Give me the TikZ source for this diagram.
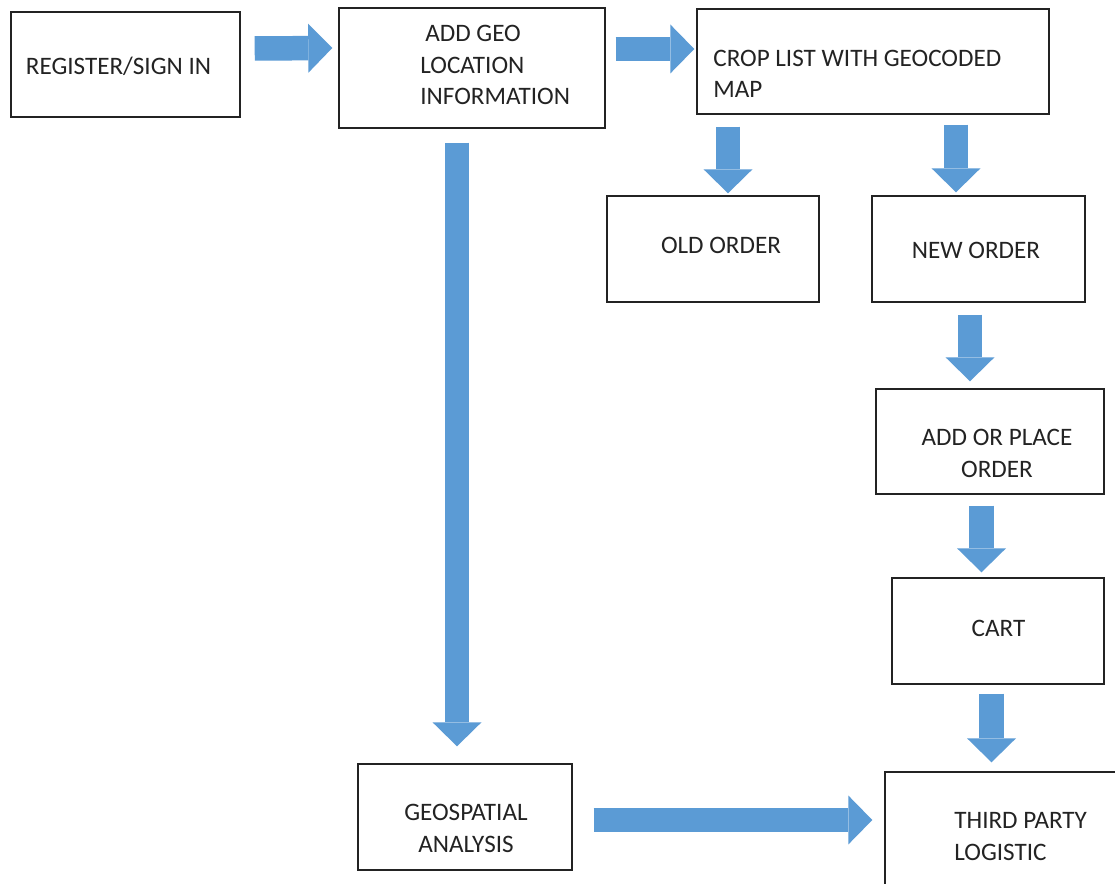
\documentclass[tikz,border=0pt]{standalone}
\usepackage{fontspec}
\setmainfont{Carlito}
\usepackage{xcolor}
\definecolor{flowBlue}{RGB}{91,155,213}
\definecolor{flowInk}{RGB}{35,35,35}
\usepackage{tikz}
\usetikzlibrary{arrows.meta}
\tikzset{
  box/.style 2 args={draw=flowInk, line width=0.8pt, inner sep=0pt,
    minimum width=#1*0.02cm, minimum height=#2*0.02cm},
  lbl/.style={font=\fontsize{14.3}{18}\selectfont, text=flowInk, inner sep=0pt, align=left},
  blk/.style={flowBlue, line width=0.49cm,
    -{Triangle[width=0.98cm,length=0.48cm,line width=0pt]}}
}

\begin{document}
\begin{tikzpicture}[x=0.02cm, y=-0.02cm]
  \fill[white] (0,0) rectangle (1115,884);
  \clip (0,0) rectangle (1115,884);
  % boxes
  \node[box={229}{105}] (reg) at (125.5,64.5) {};
  \node[box={266}{120}] (geo) at (472,68) {};
  \node[box={352}{105}] (crop) at (873,61.5) {};
  \node[box={212}{106}] (old) at (713,249) {};
  \node[box={213}{106}] (new) at (978.5,249) {};
  \node[box={228}{105}] (place) at (990,441.5) {};
  \node[box={212}{106}] (cart) at (998,631) {};
  \node[box={214}{106}] (spatial) at (465,817) {};
  \node[box={240}{120}] (third) at (1005,832) {};
  % labels
  \node[lbl] (regT) at (118.5,66) {REGISTER/SIGN IN};
  \node[lbl, anchor=west] (geoT) at (420,65) {\hspace*{0.1cm}ADD GEO\\LOCATION\\INFORMATION};
  \node[lbl, anchor=west] (cropT) at (713,74) {CROP LIST WITH GEOCODED\\MAP};
  \node[lbl] (oldT) at (721,245) {OLD ORDER};
  \node[lbl] (newT) at (976,250) {NEW ORDER};
  \node[lbl, align=center] (placeT) at (997,453.5) {ADD OR PLACE\\ORDER};
  \node[lbl] (cartT) at (998.5,628) {CART};
  \node[lbl, align=center] (spatialT) at (466,828.5) {GEOSPATIAL\\ANALYSIS};
  \node[lbl, anchor=west] (thirdT) at (954,836.5) {THIRD PARTY\\LOGISTIC};
  % block arrows
  \draw[blk] ([shift={(14,-16)}]reg.east) -- ([shift={(-6,-20)}]geo.west);
  \draw[blk] ([shift={(10,-19)}]geo.east) -- ([shift={(-2,-12.5)}]crop.west);
  \draw[blk] ([shift={(-145,12)}]crop.south) -- ([shift={(15,-2)}]old.north);
  \draw[blk] ([shift={(83,10)}]crop.south) -- ([shift={(-22.5,-3)}]new.north);
  \draw[blk] ([shift={(-8.5,12)}]new.south) -- ([shift={(-20,-7)}]place.north);
  \draw[blk] ([shift={(-8.5,11)}]place.south) -- ([shift={(-16.5,-5)}]cart.north);
  \draw[blk] ([shift={(-6.5,9)}]cart.south) -- ([shift={(-13.5,-9)}]third.north);
  \draw[blk] ([shift={(-15,14)}]geo.south) -- ([shift={(-8,-17)}]spatial.north);
  \draw[blk] ([shift={(21,3)}]spatial.east) -- ([shift={(-12,-12)}]third.west);
\end{tikzpicture}
\end{document}
